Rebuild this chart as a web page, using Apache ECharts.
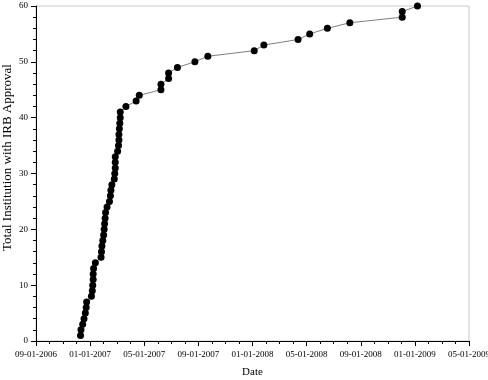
<!DOCTYPE html>
<html>
<head>
<meta charset="utf-8">
<script src="https://cdn.jsdelivr.net/npm/echarts@6/dist/echarts.min.js"></script>
<style>html,body{margin:0;padding:0;background:#fff}#c{width:488px;height:380px}</style>
</head>
<body>
<div id="c"></div>
<script>
// Approval dates and cumulative counts
const approvalDates = [
  '2006-12-10','2006-12-11','2006-12-15','2006-12-18','2006-12-21','2006-12-23','2006-12-24',
  '2007-01-04','2007-01-06','2007-01-07','2007-01-08','2007-01-08','2007-01-09','2007-01-13',
  '2007-01-26','2007-01-27','2007-01-28','2007-01-30','2007-02-01','2007-02-02','2007-02-03',
  '2007-02-04','2007-02-05','2007-02-08','2007-02-13','2007-02-15','2007-02-16','2007-02-18',
  '2007-02-23','2007-02-24','2007-02-25','2007-02-25','2007-02-25','2007-03-02','2007-03-04',
  '2007-03-05','2007-03-05','2007-03-06','2007-03-07','2007-03-08','2007-03-08','2007-03-21',
  '2007-04-13','2007-04-20','2007-06-08','2007-06-08','2007-06-25','2007-06-25','2007-07-15',
  '2007-08-24','2007-09-22','2008-01-05','2008-01-27','2008-04-12','2008-05-08','2008-06-17',
  '2008-08-07','2008-12-03','2008-12-03','2009-01-07'
];
const totals = [
  1,2,3,4,5,6,7,8,9,10,11,12,13,14,15,16,17,18,19,20,21,22,23,24,25,26,27,28,29,30,
  31,32,33,34,35,36,37,38,39,40,41,42,43,44,45,46,47,48,49,50,51,52,53,54,55,56,57,58,59,60
];
const xTickLabels = ['09-01-2006','01-01-2007','05-01-2007','09-01-2007','01-01-2008','05-01-2008','09-01-2008','01-01-2009','05-01-2009'];
const yTicks = [0,10,20,30,40,50,60];

// months elapsed since 2006-09-01 (fractional)
function monthsSinceStart(s){
  const [y,m,d] = s.split('-').map(Number);
  const dim = new Date(y, m, 0).getDate();
  return (y-2006)*12 + (m-9) + (d-1)/dim;
}
const seriesData = approvalDates.map((d,i)=>[monthsSinceStart(d), totals[i]]);

const font = 'Liberation Serif';
const chart = echarts.init(document.getElementById('c'), null, {renderer:'canvas'});
chart.setOption({
  animation:false,
  grid:{left:36, right:19, top:6, bottom:39, show:true, borderColor:'#c8c8c8', borderWidth:1,
        containLabel:false, outerBoundsMode:'none'},
  xAxis:{
    type:'value', min:0, max:32, interval:4,
    name:'Date', nameLocation:'middle', nameGap:26, nameMoveOverlap:false,
    nameTextStyle:{fontFamily:font, fontSize:11, color:'#000'},
    axisLine:{show:true, lineStyle:{color:'#000', width:1}},
    axisTick:{show:true, length:5, lineStyle:{color:'#000'}},
    minorTick:{show:true, splitNumber:4, length:3, lineStyle:{color:'#000'}},
    splitLine:{show:false},
    axisLabel:{fontFamily:font, fontSize:9, color:'#000', margin:9, hideOverlap:false,
      formatter:(v)=>{ const i=Math.round(v/4); return xTickLabels[i]||''; }}
  },
  yAxis:{
    type:'value', min:yTicks[0], max:yTicks[yTicks.length-1], interval:10,
    name:'Total Institution with IRB Approval', nameLocation:'middle', nameGap:22, nameMoveOverlap:false,
    nameTextStyle:{fontFamily:font, fontSize:13, color:'#000', padding:[0,0,0,32]},
    axisLine:{show:true, lineStyle:{color:'#000', width:1}},
    axisTick:{show:true, length:5, lineStyle:{color:'#000'}},
    minorTick:{show:true, splitNumber:5, length:3, lineStyle:{color:'#000'}},
    splitLine:{show:false},
    axisLabel:{fontFamily:font, fontSize:9, color:'#000', margin:8}
  },
  series:[{
    type:'line', data:seriesData,
    symbol:'circle', symbolSize:7, showAllSymbol:true,
    itemStyle:{color:'#000'},
    lineStyle:{color:'#808080', width:1}
  }]
});
</script>
</body>
</html>
